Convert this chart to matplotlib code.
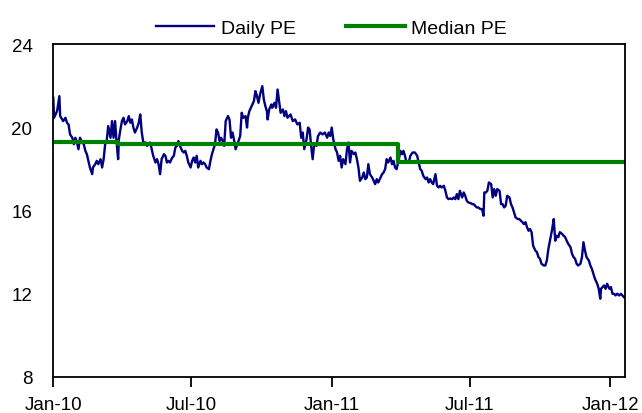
import matplotlib
matplotlib.use('Agg')
import matplotlib.pyplot as plt
import matplotlib.dates as mdates
import pandas as pd

plt.rcParams['font.family'] = ['Liberation Sans', 'DejaVu Sans']

start = pd.Timestamp('2010-01-01')

# daily PE (days since 2010-01-01)
pe_days = [0, 1, 5, 8, 9, 13, 16, 18, 20, 22, 25, 27, 29, 31, 33, 35, 38, 40, 42, 44,
           46, 48, 51, 52, 55, 57, 59, 62, 64, 66, 68, 70, 72, 75, 77, 79, 81, 83, 85, 86,
           88, 90, 92, 94, 97, 99, 101, 103, 105, 107, 110, 112, 114, 116, 118,
           121, 123, 127, 129, 131, 134, 136, 138, 140, 142, 145, 147, 149, 151, 153, 156,
           158, 160, 162, 164, 166, 169, 171, 173, 175, 177, 180, 182, 184, 186, 188, 190,
           193, 195, 197, 199, 201, 204, 206, 208, 210, 212, 214, 216, 218, 220, 222, 224,
           226, 229, 231, 233, 235, 238, 239, 242,
           245, 247, 249, 252, 254, 255, 257, 260, 263, 265, 267, 269, 271, 274, 276, 278,
           280, 281, 283, 286, 287, 290, 292, 294, 296, 298, 301, 303, 305, 307, 311, 314,
           317, 320, 323, 325, 327, 329, 332, 334, 336, 338, 340, 342, 345, 347, 350, 353,
           356, 359, 361, 363, 365, 367,
           370, 372, 374, 376, 378, 380, 383, 385, 387, 389, 391, 394, 396, 398, 400, 402,
           405, 407, 409, 411, 413, 415, 418, 420, 422, 424, 426, 429, 431, 433, 435, 437,
           439, 442, 444, 446, 448, 450, 453, 455, 457, 459, 461, 463, 466, 468, 471, 474,
           477, 479, 481, 483, 485, 488, 490, 492,
           494, 496, 498, 501, 503, 505, 507, 509, 512, 514, 516, 518, 520, 523, 525, 527,
           529, 531, 533, 536, 538, 540, 542, 544, 547, 549, 551, 553, 555, 557, 560, 562,
           564, 565, 567, 569, 571, 574, 576, 578, 580, 582, 585, 587, 589, 591, 593, 595,
           598, 600, 602, 604, 606, 609, 611, 613, 615, 617,
           619, 621, 623, 625, 627, 629, 632, 634, 636, 638, 640, 643, 645, 647, 649, 651,
           654, 656, 658, 660, 662, 664, 667, 669, 671, 673, 675, 678, 680, 682, 684, 686,
           688, 691, 693, 695, 697, 699, 702, 704, 706, 708, 710, 713, 715, 717, 718, 720,
           722, 724, 726, 729, 731, 733, 735, 737, 739, 742, 744, 746, 748]
pe_vals = [21.42, 20.46, 20.78, 21.50, 20.54, 20.30, 20.46, 20.22, 20.14, 19.66,
           19.50, 19.19, 19.50, 19.27, 18.95, 19.50, 19.27, 19.19, 18.87, 18.71,
           18.39, 18.07, 17.75, 18.07, 18.23, 18.39, 18.23, 18.47, 18.07, 18.47,
           19.19, 19.34, 20.06, 19.50, 20.30, 19.50, 20.30, 19.27, 18.47, 19.43,
           19.90, 20.30, 20.46, 20.14, 20.30, 20.54, 20.22, 20.38, 19.99, 19.75,
           19.99, 20.22, 20.62, 19.75, 19.27,
           19.27, 19.11, 19.27, 18.95, 18.63, 18.31, 18.47, 18.23, 17.75, 18.47,
           18.71, 18.63, 18.31, 18.39, 18.31, 18.55, 18.63, 19.03, 19.11, 19.34,
           19.11, 18.87, 18.79, 18.87, 18.63, 18.31, 18.07, 18.39, 18.55, 18.31,
           18.63, 18.07, 18.39, 18.23, 18.31, 18.23, 18.07, 17.99, 18.39, 18.71,
           18.95, 19.19, 19.90, 19.75, 19.34, 19.50, 19.34, 19.11, 20.30, 20.54,
           20.38, 19.50, 19.75, 19.19, 18.95, 19.27,
           19.58, 20.70, 20.46, 20.54, 19.99, 20.46, 20.78, 21.02, 21.26, 21.74,
           21.50, 21.18, 21.58, 21.98, 21.34, 21.02, 20.78, 20.38, 20.86, 21.10,
           20.94, 21.18, 20.94, 21.82, 21.26, 20.70, 20.86, 20.54, 20.78, 20.46,
           20.62, 20.30, 20.38, 20.14, 20.22, 19.50, 19.75, 18.95, 19.43, 19.99,
           19.90, 19.11, 18.47, 19.19, 19.11, 19.58, 19.75, 19.66, 19.75, 19.50,
           19.75, 19.58, 19.99, 19.43,
           18.95, 18.79, 18.39, 18.63, 18.07, 18.47, 18.23, 18.95, 19.27, 18.31,
           18.87, 18.71, 18.79, 18.47, 18.07, 17.43, 17.59, 17.83, 17.51, 17.59,
           18.23, 17.75, 17.59, 17.43, 17.27, 17.51, 17.35, 17.59, 17.75, 17.83,
           17.99, 18.47, 18.31, 18.55, 18.23, 18.39, 18.07, 17.99, 18.47, 18.87,
           18.71, 18.87, 18.63, 18.31, 18.31, 18.63, 18.79, 18.79, 18.63, 18.31,
           17.99, 17.91, 17.67, 17.51, 17.59, 17.35,
           17.51, 17.35, 17.27, 17.75, 17.19, 17.11, 17.19, 17.11, 17.19, 16.95,
           16.63, 16.55, 16.58, 16.55, 16.63, 16.55, 16.79, 16.55, 16.95, 16.63,
           16.87, 16.71, 16.47, 16.39, 16.36, 16.31, 16.31, 16.23, 16.15, 16.15,
           16.07, 16.07, 15.75, 16.87, 16.87, 16.95, 17.35, 17.27, 16.63, 17.03,
           16.71, 17.03, 16.95, 16.31, 16.31, 16.15, 16.23, 16.71, 16.63, 16.31,
           16.15, 15.91, 15.67, 15.59, 15.59, 15.51, 15.44, 15.35,
           15.44, 15.20, 15.03, 15.11, 14.96, 14.31, 14.07, 14.00, 13.76, 13.68,
           13.44, 13.36, 13.36, 13.60, 14.16, 14.55, 15.11, 15.59, 14.55, 14.79,
           14.72, 14.96, 14.88, 14.79, 14.72, 14.55, 14.40, 14.24, 13.92, 13.76,
           13.68, 13.44, 13.36, 13.44, 13.76, 14.48, 14.07, 13.76, 13.60, 13.36,
           13.20, 12.96, 12.72, 12.48, 12.24, 11.76, 12.24, 12.32, 12.40, 12.24,
           12.48, 12.24, 12.32, 12.00, 12.00, 11.92, 12.00, 11.92, 12.00, 11.92,
           11.84]

# median PE steps
median_days = [0, 85, 452, 749]
median_vals = [19.30, 19.19, 18.34, 18.34]

tick_dates = ['2010-01-01', '2010-07-01', '2011-01-01', '2011-07-01', '2012-01-01']

pe_dates = start + pd.to_timedelta(pe_days, unit='D')
median_dates = start + pd.to_timedelta(median_days, unit='D')

fig = plt.figure(figsize=(6.42, 4.14), dpi=100)
ax = fig.add_axes([0.083, 0.087, 0.890, 0.804])

ax.plot(pe_dates, pe_vals, color='#000080', lw=1.7, label='Daily PE')
ax.plot(median_dates, median_vals, color='#008000', lw=3, drawstyle='steps-post',
        label='Median PE')

ax.set_xlim(start, start + pd.Timedelta(days=749))
ax.set_ylim(8, 24)
ax.set_yticks([8, 12, 16, 20, 24])
ax.set_xticks(pd.to_datetime(tick_dates))
ax.xaxis.set_major_formatter(mdates.DateFormatter('%b-%y'))

for s in ax.spines.values():
    s.set_linewidth(1.3)
    s.set_color('black')
ax.tick_params(axis='x', direction='out', length=7, width=1.3, labelsize=13.5, pad=7)
ax.tick_params(axis='y', length=0, labelsize=13.5, pad=15)

fig.legend(loc='center', bbox_to_anchor=(0.516, 0.93), ncol=2, frameon=False,
           fontsize=14, handlelength=3.0, handletextpad=0.32, columnspacing=2.6)

fig.savefig('out.png', dpi=100)
